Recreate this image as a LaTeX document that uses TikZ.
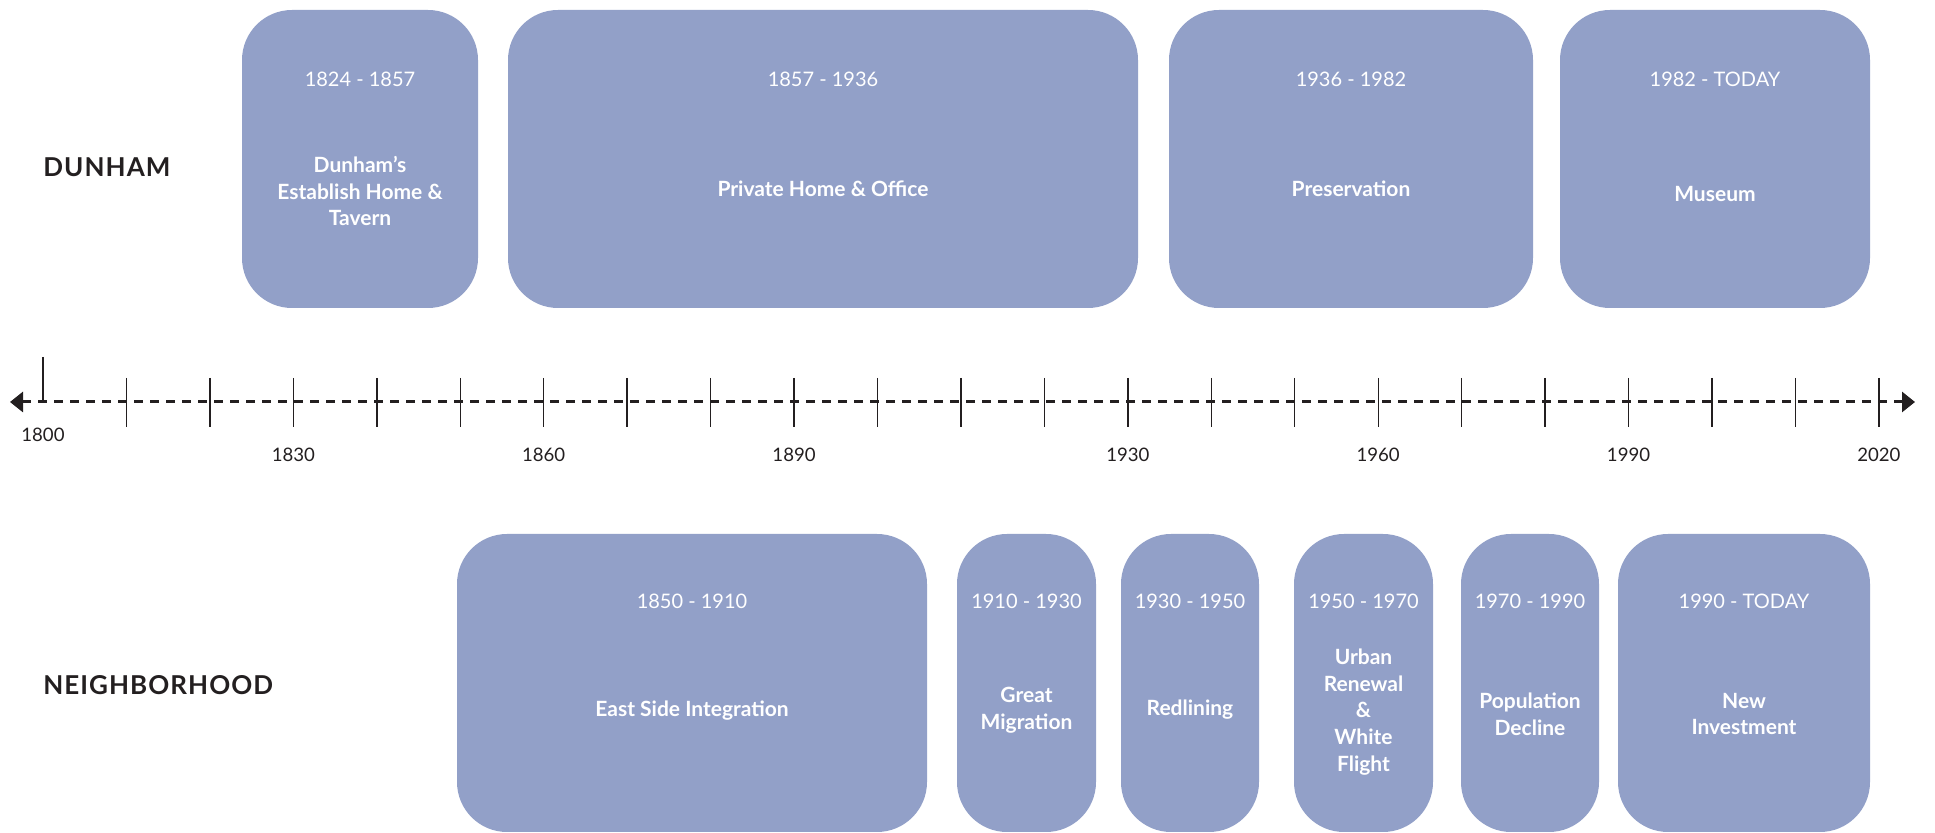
\documentclass[tikz,border=0pt]{standalone}
\usepackage{fontspec}
\setmainfont{Lato}
\usetikzlibrary{arrows.meta}
\definecolor{boxblue}{RGB}{146,160,200}
\definecolor{inkdark}{RGB}{35,31,32}
\tikzset{
  period/.style={fill=boxblue, rounded corners=25pt, inner sep=0pt},
  datetext/.style={text=white, font=\fontsize{10}{12}\selectfont},
  titletext/.style={text=white, font=\bfseries\fontsize{10.5}{13.3}\selectfont, align=center},
  rowlabel/.style={text=inkdark, font=\bfseries\fontsize{13}{15}\addfontfeature{LetterSpace=4}\selectfont, anchor=west, inner sep=0pt},
  yearlabel/.style={text=inkdark, font=\fontsize{9.3}{11}\selectfont},
  tickline/.style={draw=inkdark, line width=0.7pt},
  axisline/.style={draw=inkdark, line width=1.5pt, dash pattern=on 4.5pt off 3.5pt}
}
\begin{document}
\begin{tikzpicture}[x=0.5pt, y=-0.5pt]
\useasboundingbox (0,0) rectangle (1935,833);
% Dunham row
\node[rowlabel] (dunham) at (43,167) {DUNHAM};
\node[period, minimum width=118pt, minimum height=149pt] (d1) at (360,159) {};
\node[period, minimum width=315pt, minimum height=149pt] (d2) at (823,159) {};
\node[period, minimum width=182pt, minimum height=149pt] (d3) at (1351,159) {};
\node[period, minimum width=155pt, minimum height=149pt] (d4) at (1715,159) {};
\node[datetext] (d1date) at (360,79) {1824 - 1857};
\node[datetext] (d2date) at (823,79) {1857 - 1936};
\node[datetext] (d3date) at (1351,79) {1936 - 1982};
\node[datetext] (d4date) at (1715,79) {1982 - TODAY};
\node[titletext] (d1title) at (360,191) {Dunham's\\Establish Home \&\\Tavern};
\node[titletext] (d2title) at (823,189) {Private Home \& Office};
\node[titletext] (d3title) at (1351,189) {Preservation};
\node[titletext] (d4title) at (1715,194) {Museum};
% Neighborhood row
\node[rowlabel] (hood) at (43,685) {NEIGHBORHOOD};
\node[period, minimum width=235pt, minimum height=149pt] (n1) at (692,683) {};
\node[period, minimum width=69.5pt, minimum height=149pt] (n2) at (1026.5,683) {};
\node[period, minimum width=69pt, minimum height=149pt] (n3) at (1190,683) {};
\node[period, minimum width=69.5pt, minimum height=149pt] (n4) at (1363.5,683) {};
\node[period, minimum width=69pt, minimum height=149pt] (n5) at (1530,683) {};
\node[period, minimum width=126pt, minimum height=149pt] (n6) at (1744,683) {};
\node[datetext] (n1date) at (692,601) {1850 - 1910};
\node[datetext] (n2date) at (1026.5,601) {1910 - 1930};
\node[datetext] (n3date) at (1190,601) {1930 - 1950};
\node[datetext] (n4date) at (1363.5,601) {1950 - 1970};
\node[datetext] (n5date) at (1530,601) {1970 - 1990};
\node[datetext] (n6date) at (1744,601) {1990 - TODAY};
\node[titletext] (n1title) at (692,711) {East Side Integration};
\node[titletext] (n2title) at (1026.5,710) {Great\\Migration};
\node[titletext] (n3title) at (1190,710) {Redlining};
\node[titletext] (n4title) at (1363.5,712) {Urban\\Renewal\\\&\\White\\Flight};
\node[titletext] (n5title) at (1530,714) {Population\\Decline};
\node[titletext] (n6title) at (1744,714) {New\\Investment};
% time axis
\coordinate (axisL) at (10,402);
\coordinate (axisR) at (1915,402);
\draw[axisline, {Triangle[length=6.5pt,width=10pt]}-{Triangle[length=6.5pt,width=10pt]}] (axisL) -- (axisR);
\draw[tickline] (43,357) -- (43,402);
\foreach \i in {1,...,22}
  \draw[tickline] ({43+83.45*\i},378) -- ++(0,49);
\node[yearlabel] (y1800) at (43,435) {1800};
\foreach \yr in {1830,1860,1890,1930,1960,1990,2020}
  \node[yearlabel] (y\yr) at ({43+8.345*(\yr-1800)},455) {\yr};
\end{tikzpicture}
\end{document}
